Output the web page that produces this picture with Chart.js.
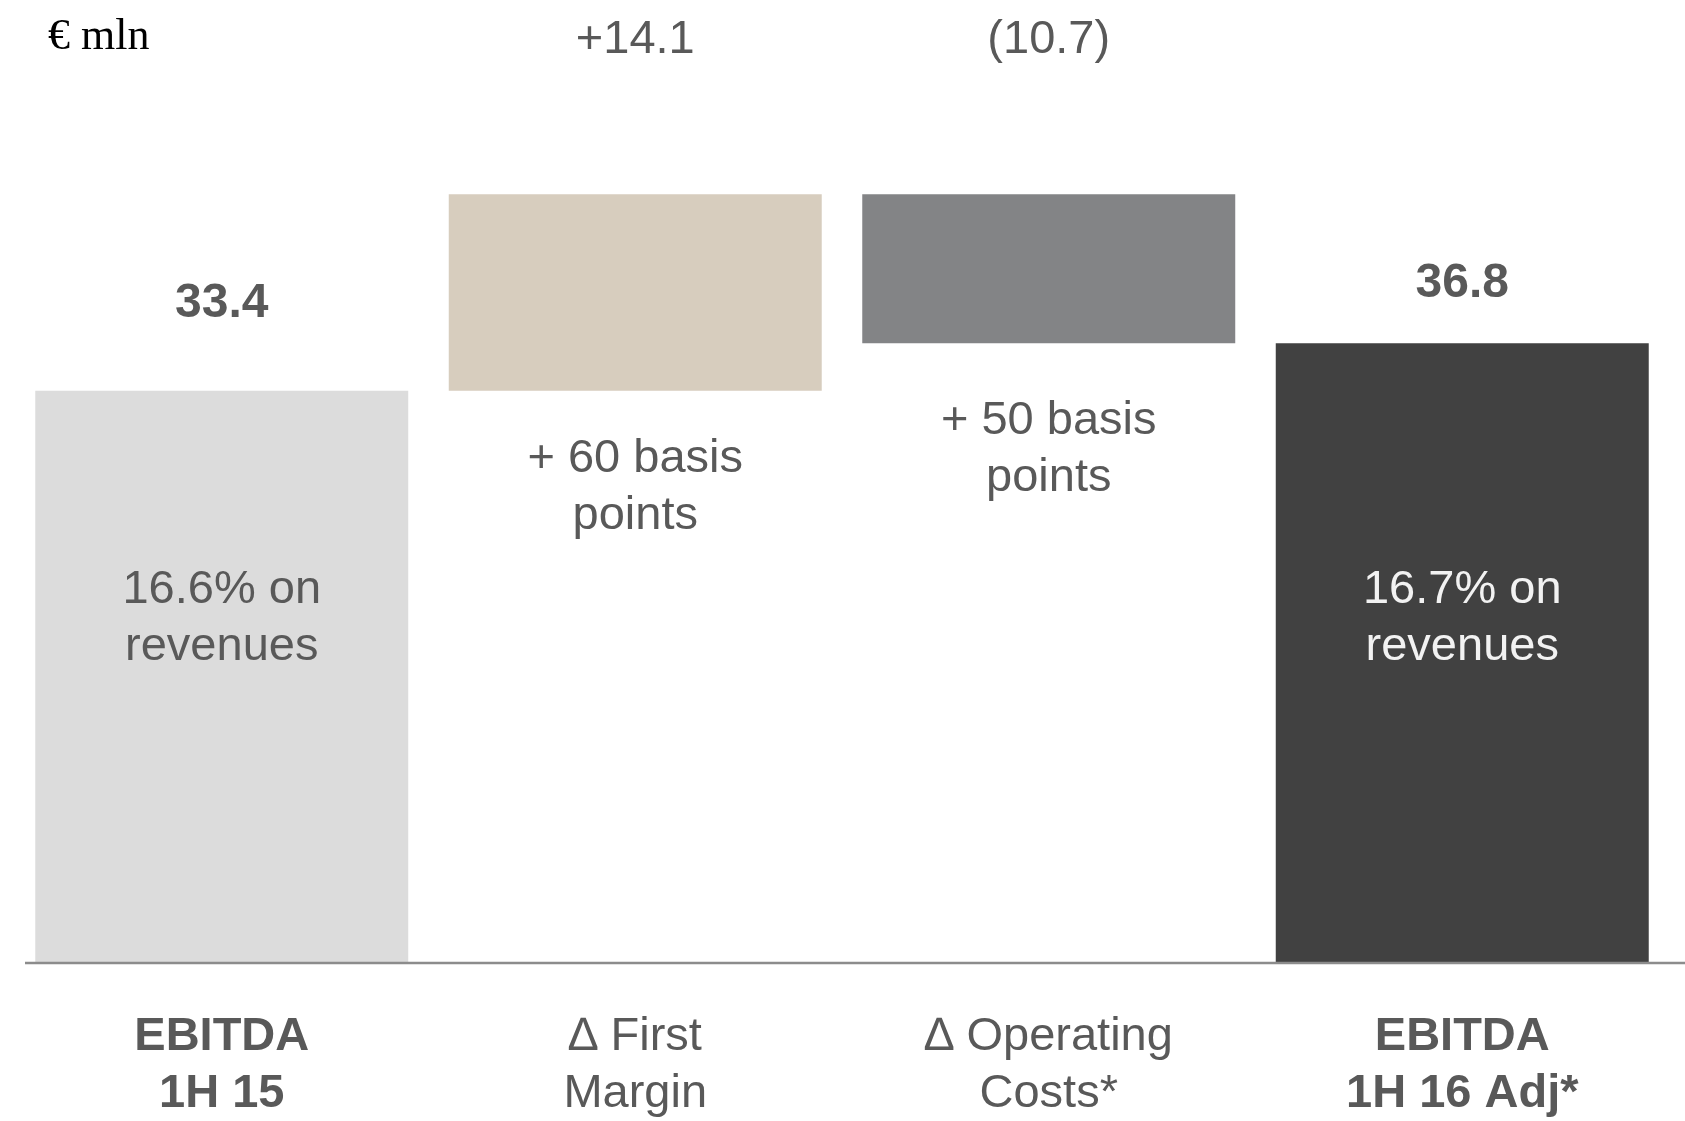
<!DOCTYPE html>
<html>
<head>
<meta charset="utf-8">
<title>EBITDA bridge</title>
<script src="https://cdn.jsdelivr.net/npm/chart.js@4.4.1/dist/chart.umd.min.js"></script>
<style>
  html, body { margin: 0; padding: 0; background: #ffffff; }
  #wrap { width: 1685px; height: 1121px; position: relative; }
</style>
</head>
<body>
<div id="wrap"><canvas id="bridgeChart"></canvas></div>
<script>
// categories (two-line tick labels)
const categories = [
    ['EBITDA', '1H 15'],
    ['\u2206 First', 'Margin'],
    ['\u2206 Operating', 'Costs*'],
    ['EBITDA', '1H 16 Adj*']
];

// EBITDA start / end and the two bridge steps, € mln
const steps = [33.4, 14.1, -10.7, 36.8];
const isTotal = [true, false, false, true];

// margin notes under / inside each bar
const marginNotes = [
    ['16.6% on', 'revenues'],
    ['+ 60 basis', 'points'],
    ['+ 50 basis', 'points'],
    ['16.7% on', 'revenues']
];

const barColors = ['#dcdcdc', '#d7cdbe', '#838486', '#414141'];
const noteColors = ['#595959', '#595959', '#595959', '#f2f2f2'];

const Y_MIN = -7.6;
const Y_MAX = 60;
const SANS = '"Liberation Sans", Arial, Helvetica, sans-serif';
const TEXT_GREY = '#595959';

// build floating ranges for the waterfall
function buildRanges() {
    const ranges = [];
    let running = 0;
    steps.forEach((v, i) => {
        if (isTotal[i]) {
            running = v;
            ranges.push([Y_MIN, v]);
        } else {
            ranges.push([running, running + v]);
            running += v;
        }
    });
    return ranges;
}

function stepLabel(v, i) {
    if (isTotal[i]) return v.toFixed(1);
    return v >= 0 ? '+' + v.toFixed(1) : '(' + Math.abs(v).toFixed(1) + ')';
}

// label offsets: totals sit above their bar, step notes hang below theirs
const totalLift = [87, 0, 0, 60];
const noteDrop = [0, 68, 78, 0];

const bridgeLabels = {
    id: 'bridgeLabels',
    afterDatasetsDraw(chart) {
        const { ctx, chartArea } = chart;
        const meta = chart.getDatasetMeta(0);

        ctx.save();

        // baseline
        ctx.strokeStyle = '#8c8c8c';
        ctx.lineWidth = 2.5;
        ctx.beginPath();
        ctx.moveTo(25, chartArea.bottom + 1);
        ctx.lineTo(chart.width, chartArea.bottom + 1);
        ctx.stroke();

        // unit caption
        ctx.font = '44px "Liberation Serif", "Times New Roman", serif';
        ctx.fillStyle = '#000000';
        ctx.textAlign = 'left';
        ctx.textBaseline = 'alphabetic';
        ctx.fillText('\u20ac mln', 48, 49);

        ctx.textAlign = 'center';
        ctx.textBaseline = 'middle';
        const lineH = 57;

        meta.data.forEach((bar, i) => {
            const top = Math.min(bar.y, bar.base);
            const bottom = Math.max(bar.y, bar.base);
            const note = marginNotes[i];

            if (isTotal[i]) {
                ctx.font = 'bold 48px ' + SANS;
                ctx.fillStyle = TEXT_GREY;
                ctx.fillText(stepLabel(steps[i], i), bar.x, top - totalLift[i]);

                ctx.font = '47px ' + SANS;
                ctx.fillStyle = noteColors[i];
                ctx.fillText(note[0], bar.x, chartArea.bottom - 372);
                ctx.fillText(note[1], bar.x, chartArea.bottom - 372 + lineH);
            } else {
                ctx.font = '47px ' + SANS;
                ctx.fillStyle = TEXT_GREY;
                ctx.fillText(stepLabel(steps[i], i), bar.x, chartArea.top + 20);

                ctx.fillStyle = noteColors[i];
                ctx.fillText(note[0], bar.x, bottom + noteDrop[i]);
                ctx.fillText(note[1], bar.x, bottom + noteDrop[i] + lineH);
            }
        });

        ctx.restore();
    }
};

const ctx = document.getElementById('bridgeChart').getContext('2d');
const bridgeChart = new Chart(ctx, {
    type: 'bar',
    data: {
        labels: categories,
        datasets: [{
            data: buildRanges(),
            backgroundColor: barColors,
            borderWidth: 0,
            categoryPercentage: 1.0,
            barPercentage: 0.902
        }]
    },
    options: {
        responsive: true,
        maintainAspectRatio: false,
        animation: false,
        layout: { padding: { top: 20, left: 15, right: 16, bottom: 0 } },
        plugins: {
            legend: { display: false },
            tooltip: { enabled: false }
        },
        scales: {
            x: {
                grid: { display: false, drawTicks: false },
                border: { display: false },
                ticks: {
                    padding: 47,
                    color: TEXT_GREY,
                    maxRotation: 0,
                    autoSkip: false,
                    font: (c) => ({
                        family: SANS,
                        size: 47,
                        lineHeight: 1.2,
                        weight: isTotal[c.index] ? 'bold' : 'normal'
                    })
                },
                afterFit: (axis) => { axis.height = 159; }
            },
            y: {
                display: false,
                min: Y_MIN,
                max: Y_MAX
            }
        }
    },
    plugins: [bridgeLabels]
});
</script>
</body>
</html>
